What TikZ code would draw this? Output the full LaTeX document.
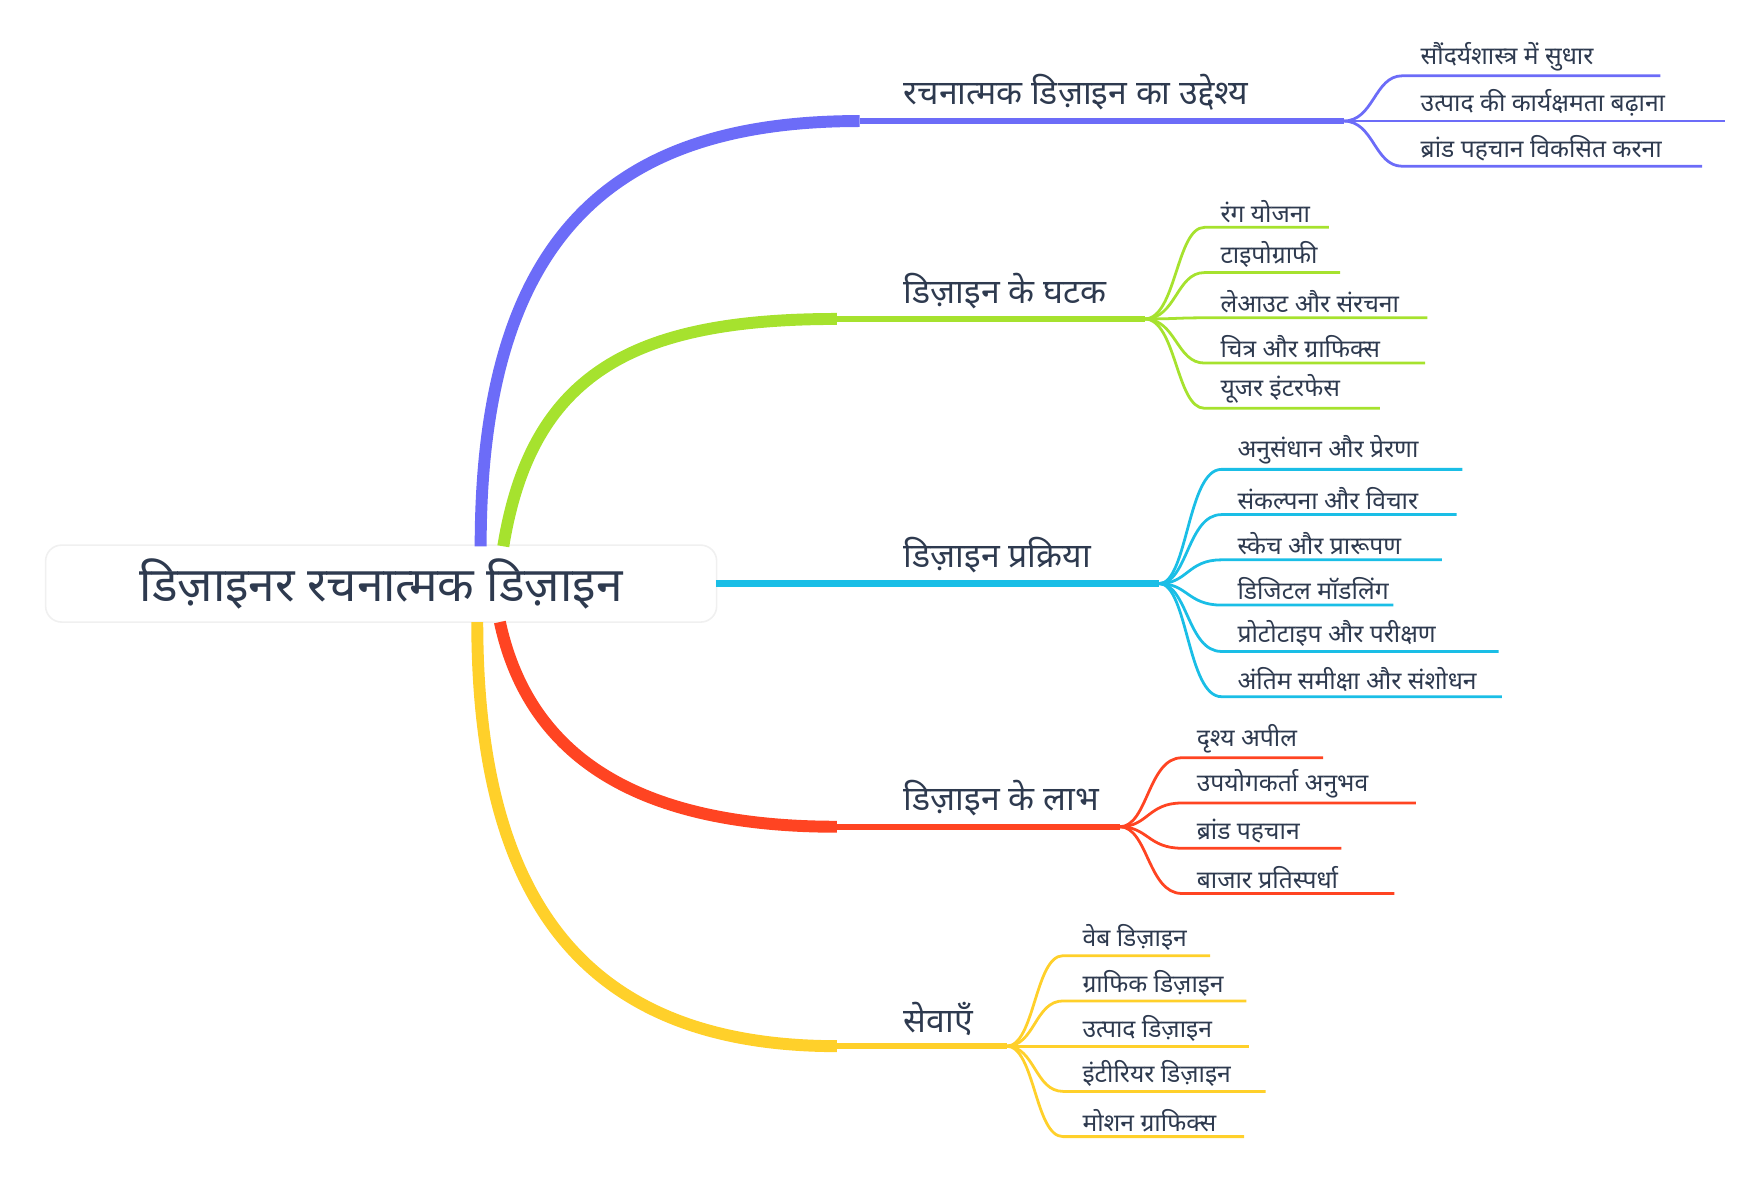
\documentclass[tikz,border=0pt]{standalone}
\usepackage{fontspec}
\setmainfont{Noto Sans}[Script=Devanagari]
\usepackage{xcolor}
\usepackage{tikz}
\usetikzlibrary{positioning}

\definecolor{txtc}{HTML}{2E3A4F}
\definecolor{cpurple}{HTML}{6C6CF8}
\definecolor{cgreen}{HTML}{A6E22E}
\definecolor{ccyan}{HTML}{1ABEE6}
\definecolor{cred}{HTML}{FF4422}
\definecolor{cyellow}{HTML}{FFD02A}

\tikzset{
  rootbox/.style={draw=black!6, fill=white, rounded corners=4pt, minimum width=5.93cm, minimum height=0.67cm, font=\fontsize{12}{14}\selectfont\bfseries, text=txtc},
  mainlabel/.style={anchor=south west, inner sep=1pt, font=\fontsize{8.5}{10}\selectfont, text=txtc},
  leaflabel/.style={anchor=south west, inner sep=1pt, font=\fontsize{6.2}{7.5}\selectfont, text=txtc},
  trunk/.style={line width=3pt},
  under/.style={line width=1.5pt},
  twig/.style={line width=0.7pt}
}

\begin{document}
\begin{tikzpicture}[x=0.01cm,y=-0.01cm]
\useasboundingbox (0,0) rectangle (1550,1047);

%Root
\node[rootbox] (root) at (337,516) {डिज़ाइनर रचनात्मक डिज़ाइन};

%Main branches
\coordinate (b1s) at (425,483); \coordinate (b1m) at (760,107); \coordinate (b1e) at (1188,107);
\coordinate (b2s) at (445,483); \coordinate (b2m) at (740,282); \coordinate (b2e) at (1012,282);
\coordinate (b3s) at (633,516); \coordinate (b3e) at (1025,516);
\coordinate (b4s) at (442,550); \coordinate (b4m) at (740,731); \coordinate (b4e) at (990,731);
\coordinate (b5s) at (422,550); \coordinate (b5m) at (740,925); \coordinate (b5e) at (890,925);

\draw[trunk, cpurple] (b1s) .. controls (425,200) and (550,107) .. (b1m);
\draw[under, cpurple] (b1m) -- (b1e);
\draw[trunk, cgreen] (b2s) .. controls (470,330) and (560,282) .. (b2m);
\draw[under, cgreen] (b2m) -- (b2e);
\draw[under, ccyan, line width=1.8pt] (b3s) -- (b3e);
\draw[trunk, cred] (b4s) .. controls (470,680) and (580,731) .. (b4m);
\draw[under, cred] (b4m) -- (b4e);
\draw[trunk, cyellow] (b5s) .. controls (422,800) and (520,925) .. (b5m);
\draw[under, cyellow] (b5m) -- (b5e);

\node[mainlabel] (m1) at (795,102) {रचनात्मक डिज़ाइन का उद्देश्य};
\node[mainlabel] (m2) at (795,277) {डिज़ाइन के घटक};
\node[mainlabel] (m3) at (795,511) {डिज़ाइन प्रक्रिया};
\node[mainlabel] (m4) at (795,726) {डिज़ाइन के लाभ};
\node[mainlabel] (m5) at (795,920) {सेवाएँ};

%Leaves
\foreach \y/\e/\t [count=\i] in {67/1468/सौंदर्यशास्त्र में सुधार, 107/1525/उत्पाद की कार्यक्षमता बढ़ाना, 147/1505/ब्रांड पहचान विकसित करना}{
  \coordinate (p1\i) at (1240,\y);
  \draw[twig, cpurple] (b1e) .. controls (1215,107) and (1215,\y) .. (p1\i) -- (\e,\y);
  \node[leaflabel] (n1\i) at (1252,\y) {\t};
}
\foreach \y/\e/\t [count=\i] in {201/1175/रंग योजना, 241/1185/टाइपोग्राफी, 281/1262/लेआउट और संरचना, 321/1260/चित्र और ग्राफिक्स, 361/1220/यूजर इंटरफेस}{
  \coordinate (p2\i) at (1065,\y);
  \draw[twig, cgreen] (b2e) .. controls (1040,282) and (1040,\y) .. (p2\i) -- (\e,\y);
  \node[leaflabel] (n2\i) at (1075,\y) {\t};
}
\foreach \y/\e/\t [count=\i] in {415/1293/अनुसंधान और प्रेरणा, 455/1288/संकल्पना और विचार, 495/1275/स्केच और प्रारूपण, 535/1232/डिजिटल मॉडलिंग, 576/1325/प्रोटोटाइप और परीक्षण, 616/1328/अंतिम समीक्षा और संशोधन}{
  \coordinate (p3\i) at (1080,\y);
  \draw[twig, ccyan] (b3e) .. controls (1050,516) and (1050,\y) .. (p3\i) -- (\e,\y);
  \node[leaflabel] (n3\i) at (1090,\y) {\t};
}
\foreach \y/\e/\t [count=\i] in {670/1170/दृश्य अपील, 710/1252/उपयोगकर्ता अनुभव, 750/1186/ब्रांड पहचान, 790/1233/बाजार प्रतिस्पर्धा}{
  \coordinate (p4\i) at (1045,\y);
  \draw[twig, cred] (b4e) .. controls (1015,731) and (1015,\y) .. (p4\i) -- (\e,\y);
  \node[leaflabel] (n4\i) at (1054,\y) {\t};
}
\foreach \y/\e/\t [count=\i] in {845/1070/वेब डिज़ाइन, 885/1102/ग्राफिक डिज़ाइन, 925/1104/उत्पाद डिज़ाइन, 965/1119/इंटीरियर डिज़ाइन, 1005/1100/मोशन ग्राफिक्स}{
  \coordinate (p5\i) at (940,\y);
  \draw[twig, cyellow] (b5e) .. controls (915,925) and (915,\y) .. (p5\i) -- (\e,\y);
  \node[leaflabel] (n5\i) at (953,\y) {\t};
}
\end{tikzpicture}
\end{document}
